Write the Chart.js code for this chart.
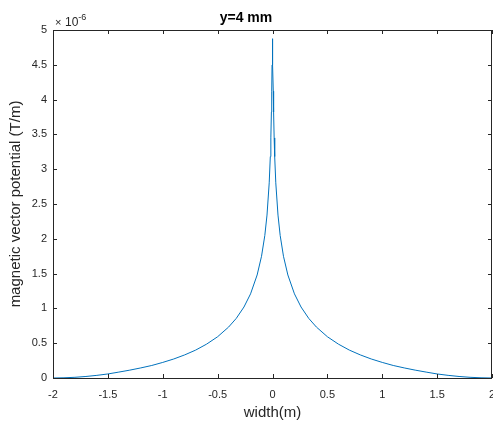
<!DOCTYPE html>
<html>
<head>
<meta charset="utf-8">
<title>y=4 mm</title>
<script src="https://cdn.jsdelivr.net/npm/chart.js@4/dist/chart.umd.min.js"></script>
<style>
  html, body { margin: 0; padding: 0; background: #fff; }
  #wrap { width: 493px; height: 423px; }
</style>
</head>
<body>
<div id="wrap"><canvas id="vp-chart" width="493" height="423"></canvas></div>
<script>
/* Values (x in metres, A in units of 1e-6 T/m) */
var widthX = [-2, -1.9, -1.8, -1.7, -1.6, -1.5, -1.4, -1.3, -1.2, -1.1, -1.0, -0.9, -0.8, -0.7, -0.6, -0.5,
              -0.4, -0.33, -0.26, -0.2, -0.14, -0.1, -0.07, -0.05, -0.03, -0.02, -0.015, -0.01, -0.007, -0.004, -0.002, -0.001,
              0,
              0.001, 0.002, 0.004, 0.007, 0.01, 0.015, 0.02, 0.03, 0.05, 0.07, 0.1, 0.14, 0.2, 0.26, 0.33, 0.4,
              0.5, 0.6, 0.7, 0.8, 0.9, 1.0, 1.1, 1.2, 1.3, 1.4, 1.5, 1.6, 1.7, 1.8, 1.9, 2];
var potential = [0, 0.003, 0.01, 0.022, 0.038, 0.058, 0.085, 0.113, 0.145, 0.18, 0.224, 0.273, 0.332, 0.401, 0.487, 0.593,
                 0.732, 0.857, 1.02, 1.209, 1.48, 1.749, 2.048, 2.341, 2.804, 3.181, 3.45, 3.821, 4.121, 4.498, 4.753, 4.842,
                 4.875,
                 4.842, 4.753, 4.498, 4.121, 3.821, 3.45, 3.181, 2.804, 2.341, 2.048, 1.749, 1.48, 1.209, 1.02, 0.857, 0.732,
                 0.593, 0.487, 0.401, 0.332, 0.273, 0.224, 0.18, 0.145, 0.113, 0.085, 0.058, 0.038, 0.022, 0.01, 0.003, 0];
var xTicks = [-2, -1.5, -1, -0.5, 0, 0.5, 1, 1.5, 2];
var yTicks = [0, 0.5, 1, 1.5, 2, 2.5, 3, 3.5, 4, 4.5, 5];
var yScaleExp = 1e-6;

var axisColor = '#262626';
var lineBlue  = '#0072BD';
var fontFam   = '"Liberation Sans", Arial, sans-serif';

var points = [];
for (var i = 0; i < widthX.length; i++) {
    points.push({ x: widthX[i], y: potential[i] * yScaleExp });
}

/* MATLAB style box with inward ticks + the x10^-6 multiplier */
var matlabBox = {
    id: 'matlabBox',
    afterDraw: function(chart) {
        var ctx = chart.ctx, a = chart.chartArea;
        var sx = chart.scales.x, sy = chart.scales.y;
        var tl = 4;
        ctx.save();
        ctx.strokeStyle = axisColor;
        ctx.lineWidth = 1;
        ctx.beginPath();
        ctx.rect(Math.round(a.left) + 0.5, Math.round(a.top) + 0.5,
                 Math.round(a.right - a.left) - 1, Math.round(a.bottom - a.top));
        xTicks.forEach(function(v) {
            var px = Math.round(sx.getPixelForValue(v)) + 0.5;
            ctx.moveTo(px, a.bottom); ctx.lineTo(px, a.bottom - tl);
            ctx.moveTo(px, a.top);    ctx.lineTo(px, a.top + tl);
        });
        yTicks.forEach(function(v) {
            var py = Math.round(sy.getPixelForValue(v * yScaleExp)) + 0.5;
            ctx.moveTo(a.left, py);  ctx.lineTo(a.left + tl, py);
            ctx.moveTo(a.right, py); ctx.lineTo(a.right - tl, py);
        });
        ctx.stroke();

        ctx.fillStyle = axisColor;
        ctx.textBaseline = 'alphabetic';
        ctx.textAlign = 'left';
        ctx.font = '11px ' + fontFam;
        ctx.fillText('\u00d7', a.left + 2, a.top - 4);
        ctx.font = '12px ' + fontFam;
        ctx.fillText('10', a.left + 12, a.top - 4);
        var w = ctx.measureText('10').width;
        ctx.font = '9px ' + fontFam;
        ctx.fillText('-6', a.left + 12 + w, a.top - 10);
        ctx.restore();
    }
};

new Chart(document.getElementById('vp-chart'), {
    type: 'scatter',
    data: {
        datasets: [{
            data: points,
            showLine: true,
            borderColor: lineBlue,
            borderWidth: 1,
            pointRadius: 0,
            tension: 0,
            fill: false
        }]
    },
    options: {
        responsive: false,
        animation: false,
        layout: { padding: { left: 0, right: 1, top: 0, bottom: 0 } },
        plugins: {
            legend: { display: false },
            tooltip: { enabled: false },
            title: {
                display: true,
                text: 'y=4 mm',
                color: '#000',
                font: { family: fontFam, size: 14, weight: 'bold' },
                padding: { top: 10, bottom: 3.2 }
            }
        },
        scales: {
            x: {
                type: 'linear',
                min: -2, max: 2,
                grid: { display: false, drawTicks: false },
                border: { display: false },
                afterBuildTicks: function(s) { s.ticks = xTicks.map(function(v) { return { value: v }; }); },
                afterFit: function(s) { s.height = 45; s.paddingLeft = 0; s.paddingRight = 0; },
                ticks: {
                    color: axisColor, padding: 10, maxRotation: 0, autoSkip: false,
                    font: { family: fontFam, size: 11 },
                    callback: function(v) { return String(v); }
                },
                title: {
                    display: true, text: 'width(m)', color: axisColor,
                    font: { family: fontFam, size: 15 },
                    padding: { top: 0, bottom: 1 }
                }
            },
            y: {
                type: 'linear',
                min: 0, max: 5e-6,
                grid: { display: false, drawTicks: false },
                border: { display: false },
                afterBuildTicks: function(s) { s.ticks = yTicks.map(function(v) { return { value: v * yScaleExp }; }); },
                afterFit: function(s) { s.width = 53; s.paddingTop = 0; s.paddingBottom = 0; },
                ticks: {
                    color: axisColor, padding: 6, autoSkip: false,
                    font: { family: fontFam, size: 11 },
                    callback: function(v) { return String(Math.round(v / yScaleExp * 10) / 10); }
                },
                title: {
                    display: true, text: 'magnetic vector potential (T/m)', color: axisColor,
                    font: { family: fontFam, size: 15 },
                    padding: { top: 7, bottom: 0 }
                }
            }
        }
    },
    plugins: [matlabBox]
});
</script>
</body>
</html>
